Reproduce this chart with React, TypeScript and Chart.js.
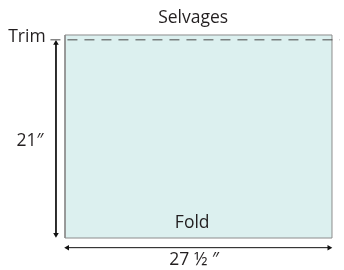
import React, { useEffect, useRef } from "react";
import { Chart, registerables } from "chart.js";

Chart.register(...registerables);

// Fabric piece, in inches
const rectX = [0, 27.5, 27.5, 0, 0];
const rectY = [0, 0, 21, 21, 0];

const trimX = [-1.5, 28.3];
const trimY = [20.5, 20.5];

const heightArrowX = [-0.93, -0.93];
const heightArrowY = [20.15, 0.35];

const widthArrowX = [0.25, 27.2];
const widthArrowY = [-1.0, -1.0];

const labelTexts = ["Selvages", "Trim", "21″", "Fold", "27 ½ ″"];
const labelX = [13.2, -2.0, -3.6, 13.1, 13.3];
const labelY = [22.75, 20.75, 10.0, 1.55, -2.3];
const labelAlign: CanvasTextAlign[] = ["center", "right", "center", "center", "center"];

const zip = (xs: number[], ys: number[]) => xs.map((x, i) => ({ x, y: ys[i] }));

const labelPlugin = {
  id: "labels",
  afterDatasetsDraw(chart: any) {
    const { ctx, scales } = chart;
    ctx.save();
    ctx.fillStyle = "#231f20";
    ctx.font = "17.5px 'Open Sans'";
    ctx.textBaseline = "middle";
    labelTexts.forEach((t, i) => {
      ctx.textAlign = labelAlign[i];
      ctx.fillText(t, scales.x.getPixelForValue(labelX[i]), scales.y.getPixelForValue(labelY[i]));
    });
    ctx.restore();
  },
};

export default function App() {
  const ref = useRef<HTMLCanvasElement>(null);
  useEffect(() => {
    document.body.style.margin = "0";
    const chart = new Chart(ref.current!, {
      type: "scatter",
      data: {
        datasets: [
          {
            data: zip(rectX, rectY),
            order: 10,
            showLine: true,
            fill: "shape",
            backgroundColor: "#dcf0ef",
            borderColor: "#8c8c8c",
            borderWidth: 1,
            pointRadius: 0,
            tension: 0,
          },
          {
            data: zip(trimX, trimY),
            order: 1,
            showLine: true,
            borderColor: "#4a4a4a",
            borderWidth: 1,
            borderDash: [10, 7],
            pointRadius: 0,
          },
          {
            data: zip(heightArrowX, heightArrowY),
            order: 1,
            showLine: true,
            borderColor: "#111111",
            borderWidth: 1,
            pointStyle: "triangle",
            pointRadius: 3.2,
            pointRotation: [0, 180],
            backgroundColor: "#111111",
            pointBorderWidth: 0,
          },
          {
            data: zip(widthArrowX, widthArrowY),
            order: 1,
            showLine: true,
            borderColor: "#111111",
            borderWidth: 1,
            pointStyle: "triangle",
            pointRadius: 3.2,
            pointRotation: [270, 90],
            backgroundColor: "#111111",
            pointBorderWidth: 0,
          },
        ],
      },
      options: {
        animation: false,
        responsive: false,
        layout: { padding: 0, autoPadding: false },
        plugins: { legend: { display: false }, tooltip: { enabled: false } },
        scales: {
          x: { type: "linear", display: false, min: -6.695, max: 28.736 },
          y: { type: "linear", display: false, min: -3.31, max: 24.62 },
        },
      },
      plugins: [labelPlugin],
    });
    return () => chart.destroy();
  }, []);
  return <canvas ref={ref} width={344} height={270} style={{ display: "block" }} />;
}
